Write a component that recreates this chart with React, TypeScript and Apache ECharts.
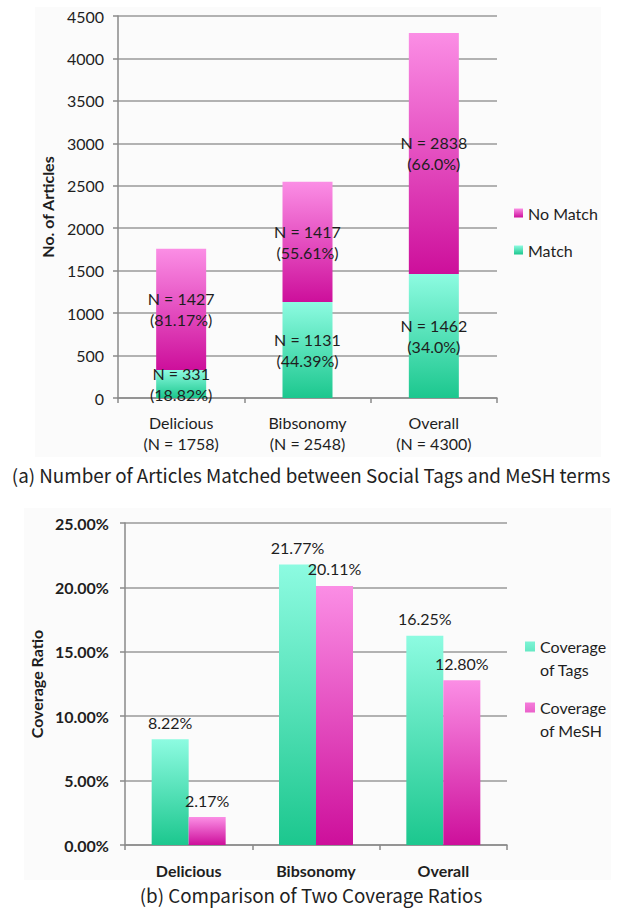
import React, { useEffect, useRef } from "react";
import * as echarts from "echarts";

const categories = ["Delicious", "Bibsonomy", "Overall"];
const totals = [1758, 2548, 4300];
const matchValues = [331, 1131, 1462];
const noMatchValues = [1427, 1417, 2838];
const matchPct = ["18.82%", "44.39%", "34.0%"];
const noMatchPct = ["81.17%", "55.61%", "66.0%"];
const topTicks = { min: 0, max: 4500, interval: 500 };

const coverageTags = [8.22, 21.77, 16.25];
const coverageMesh = [2.17, 20.11, 12.8];
const bottomTicks = { min: 0, max: 25, interval: 5 };

const captionA = "(a) Number of Articles Matched between Social Tags and MeSH terms";
const captionB = "(b) Comparison of Two Coverage Ratios";

const FONT = "Lato, 'Open Sans', sans-serif";
const CAP_FONT = "'Noto Sans CJK KR', 'Noto Sans', sans-serif";
const TXT = "#1e1e1e";

const teal = new echarts.graphic.LinearGradient(0, 0, 0, 1, [
  { offset: 0, color: "#8dfbe1" },
  { offset: 1, color: "#1cc78e" },
]);
const pink = new echarts.graphic.LinearGradient(0, 0, 0, 1, [
  { offset: 0, color: "#fb8ee5" },
  { offset: 1, color: "#cd0f9b" },
]);

// square aligned with the first text line of a two-line legend item
const topSquareIcon = "path://M0 0H0.05V0.05H0Z M0 6.5H10V16.5H0Z M0 45.95H0.05V46H0Z";

export default function App() {
  const ref = useRef<HTMLDivElement>(null);
  useEffect(() => {
    if (!ref.current) return;
    const chart = echarts.init(ref.current, undefined, { renderer: "svg" });
    const axisLine = { show: true, lineStyle: { color: "#8a8a8a", width: 1.5 } };
    const axisTick = { show: true, length: 5, lineStyle: { color: "#8a8a8a", width: 1.5 } };
    const splitLine = { show: true, lineStyle: { color: "#9a9a9a", width: 1.5 } };
    chart.setOption({
      animation: false,
      backgroundColor: "#ffffff",
      graphic: [
        { type: "rect", z: -10, silent: true, shape: { x: 35, y: 7, width: 566, height: 450 }, style: { fill: "#fbfbfb" } },
        { type: "rect", z: -10, silent: true, shape: { x: 24, y: 508, width: 587, height: 372 }, style: { fill: "#fbfbfb" } },
        { type: "text", left: "center", top: 465, style: { text: captionA, font: `18.8px ${CAP_FONT}`, fill: "#222" } },
        { type: "text", left: "center", top: 885, style: { text: captionB, font: `18.8px ${CAP_FONT}`, fill: "#222" } },
      ],
      grid: [
        { left: 118, right: 125, top: 16, bottom: 514 },
        { left: 125, right: 115, top: 523, bottom: 67 },
      ],
      legend: [
        {
          data: ["No Match", "Match"],
          orient: "vertical",
          left: 509,
          top: 200,
          itemWidth: 9,
          itemHeight: 9,
          itemGap: 21,
          icon: "rect",
          textStyle: { fontFamily: FONT, fontSize: 16, color: TXT },
        },
        {
          data: ["Coverage of Tags", "Coverage of MeSH"],
          orient: "vertical",
          left: 520,
          top: 630,
          itemWidth: 10,
          itemHeight: 46,
          itemGap: 15,
          icon: topSquareIcon,
          formatter: (n: string) => n.replace(" of ", "\nof "),
          textStyle: { fontFamily: FONT, fontSize: 16, color: TXT, lineHeight: 23 },
        },
      ],
      xAxis: [
        {
          type: "category",
          gridIndex: 0,
          data: categories.map((c, i) => `${c}\n(N = ${totals[i]})`),
          axisLine,
          axisTick,
          axisLabel: { fontFamily: FONT, fontSize: 16, color: TXT, margin: 14, lineHeight: 21 },
        },
        {
          type: "category",
          gridIndex: 1,
          data: categories,
          axisLine,
          axisTick,
          axisLabel: { fontFamily: FONT, fontSize: 16, fontWeight: "bold", color: TXT, margin: 17 },
        },
      ],
      yAxis: [
        {
          type: "value",
          gridIndex: 0,
          ...topTicks,
          name: "No. of Articles",
          nameLocation: "middle",
          nameGap: 62,
          nameTextStyle: { fontFamily: FONT, fontSize: 16, fontWeight: "bold", color: TXT },
          axisLine,
          axisTick,
          splitLine,
          axisLabel: { fontFamily: FONT, fontSize: 16, color: TXT, margin: 14, formatter: (v: number) => String(v) },
        },
        {
          type: "value",
          gridIndex: 1,
          ...bottomTicks,
          name: "Coverage Ratio",
          nameLocation: "middle",
          nameGap: 77,
          nameTextStyle: { fontFamily: FONT, fontSize: 16, fontWeight: "bold", color: TXT },
          axisLine,
          axisTick,
          splitLine,
          axisLabel: {
            fontFamily: FONT,
            fontSize: 16,
            fontWeight: "bold",
            color: TXT,
            margin: 16,
            formatter: (v: number) => v.toFixed(2) + "%",
          },
        },
      ],
      series: [
        {
          name: "Match",
          type: "bar",
          stack: "a",
          xAxisIndex: 0,
          yAxisIndex: 0,
          barWidth: 50,
          data: matchValues,
          itemStyle: { color: teal },
          label: {
            show: true,
            position: "inside",
            fontFamily: FONT,
            fontSize: 16,
            color: TXT,
            lineHeight: 21,
            formatter: (p: any) => `N = ${p.value}\n(${matchPct[p.dataIndex]})`,
          },
        },
        {
          name: "No Match",
          type: "bar",
          stack: "a",
          xAxisIndex: 0,
          yAxisIndex: 0,
          barWidth: 50,
          data: noMatchValues,
          itemStyle: { color: pink },
          label: {
            show: true,
            position: "inside",
            fontFamily: FONT,
            fontSize: 16,
            color: TXT,
            lineHeight: 21,
            formatter: (p: any) => `N = ${p.value}\n(${noMatchPct[p.dataIndex]})`,
          },
        },
        {
          name: "Coverage of Tags",
          type: "bar",
          xAxisIndex: 1,
          yAxisIndex: 1,
          barWidth: 37,
          barGap: "0%",
          data: coverageTags,
          itemStyle: { color: teal },
          label: {
            show: true,
            position: "top",
            distance: 9,
            fontFamily: FONT,
            fontSize: 16,
            color: TXT,
            formatter: (p: any) => p.value.toFixed(2) + "%",
          },
        },
        {
          name: "Coverage of MeSH",
          type: "bar",
          xAxisIndex: 1,
          yAxisIndex: 1,
          barWidth: 37,
          barGap: "0%",
          data: coverageMesh,
          itemStyle: { color: pink },
          label: {
            show: true,
            position: "top",
            distance: 9,
            fontFamily: FONT,
            fontSize: 16,
            color: TXT,
            formatter: (p: any) => p.value.toFixed(2) + "%",
          },
        },
      ],
    });
    return () => chart.dispose();
  }, []);
  return (
    <div
      ref={ref}
      style={{ position: "fixed", left: 0, top: 0, width: 622, height: 912, background: "#fff" }}
    />
  );
}
